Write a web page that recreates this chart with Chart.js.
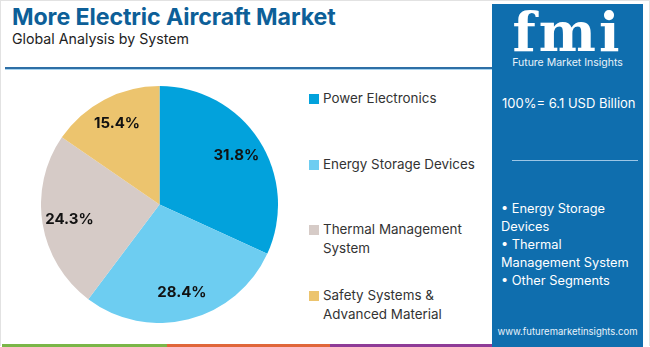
<!DOCTYPE html>
<html>
<head>
<meta charset="utf-8">
<script src="https://cdn.jsdelivr.net/npm/chart.js@4/dist/chart.umd.min.js"></script>
<style>
  html, body { margin:0; padding:0; background:#fff; }
  body { width:650px; height:347px; position:relative; overflow:hidden; font-family:Inter, "Open Sans", sans-serif; }
  .frame { position:absolute; left:0; top:0; width:648px; height:345px; border:1px solid #e2e2e2; border-bottom:none; }
  .title { position:absolute; left:12px; top:3px; font-size:23.2px; font-weight:700; color:#0d5f98; letter-spacing:-0.1px; white-space:nowrap; }
  .subtitle { position:absolute; left:12px; top:30px; font-size:14.2px; color:#222; white-space:nowrap; }
  .hline { position:absolute; left:5px; top:67px; width:487px; height:2px; background:#2e6fa6; }
  .hline2 { position:absolute; left:5px; top:69px; width:487px; height:1px; background:#a9d4ef; }
  #chartBox { position:absolute; left:41px; top:86px; width:237px; height:237px; }
  .legend { position:absolute; left:309px; top:0; font-size:13.4px; color:#333; }
  .legend .item { position:absolute; left:0; white-space:nowrap; line-height:19px; }
  .legend .sw { position:absolute; left:0; top:5px; width:10px; height:10px; }
  .legend .tx { position:absolute; left:14px; top:0; }
  .panel { position:absolute; left:492px; top:4px; width:151px; height:343px; background:#0f6eae; color:#fff; }
  .logo { position:absolute; left:0; width:151px; top:1px; text-align:center; font-family:"DejaVu Serif", serif; font-weight:700; font-size:54px; line-height:54px; letter-spacing:3px; color:#fff; }
  .logosub { position:absolute; left:0; width:151px; top:52px; text-align:center; font-size:10.5px; color:#e8f2fa; }
  .total { position:absolute; left:10px; top:91px; font-size:13px; white-space:nowrap; }
  .divider { position:absolute; left:20px; top:156px; width:126px; height:1px; background:#9cc6e6; }
  .bullets { position:absolute; left:9px; top:196px; font-size:12.8px; line-height:18px; }
  .url { position:absolute; left:0; width:151px; text-align:center; top:322px; font-size:9.5px; color:#e8f2fa; }
  .strip { position:absolute; top:344px; height:3px; }
</style>
</head>
<body>
<div class="frame"></div>
<div class="title">More Electric Aircraft Market</div>
<div class="subtitle">Global Analysis by System</div>
<div class="hline"></div>
<div class="hline2"></div>
<div id="chartBox"><canvas id="c"></canvas></div>
<div class="legend" id="legend"></div>
<div class="panel">
  <div class="logo">fmi</div>
  <div class="logosub">Future Market Insights</div>
  <div class="total" id="total"></div>
  <div class="divider"></div>
  <div class="bullets" id="bullets"></div>
  <div class="url">www.futuremarketinsights.com</div>
</div>
<div class="strip" style="left:2px;width:165px;background:#7ab648;"></div>
<div class="strip" style="left:167px;width:163px;background:#e0663a;"></div>
<div class="strip" style="left:330px;width:162px;background:#8e3b97;"></div>
<script>
const categories = ["Power Electronics", "Energy Storage Devices", "Thermal Management System", "Safety Systems & Advanced Material"];
const legendLines = [["Power Electronics"], ["Energy Storage Devices"], ["Thermal Management", "System"], ["Safety Systems &", "Advanced Material"]];
const shares = [31.8, 28.4, 24.3, 15.4];
const colors = ["#02a2dc", "#6dcdf1", "#d6cbc7", "#ecc46e"];
const totalText = "100%= 6.1 USD Billion";
const panelBullets = [["• Energy Storage", "Devices"], ["• Thermal", "Management System"], ["• Other Segments"]];
const legendTops = [89, 155, 220, 286];

// legend
const lg = document.getElementById('legend');
categories.forEach((c, i) => {
  const it = document.createElement('div');
  it.className = 'item';
  it.style.top = legendTops[i] + 'px';
  it.innerHTML = '<div class="sw" style="background:' + colors[i] + '"></div><div class="tx">' +
    legendLines[i].map(s => s.replace(/&/g, '&amp;')).join('<br>') + '</div>';
  lg.appendChild(it);
});
document.getElementById('total').textContent = totalText;
document.getElementById('bullets').innerHTML = panelBullets.map(b => b.join('<br>')).join('<br>');

const labelPlugin = {
  id: 'sliceLabels',
  afterDatasetsDraw(chart) {
    const ctx = chart.ctx;
    const meta = chart.getDatasetMeta(0);
    ctx.save();
    ctx.font = '700 15px Inter, "Open Sans", sans-serif';
    ctx.fillStyle = '#111';
    ctx.textAlign = 'center';
    ctx.textBaseline = 'middle';
    meta.data.forEach((arc, i) => {
      const p = arc.getProps(['x', 'y', 'startAngle', 'endAngle', 'outerRadius'], true);
      const mid = (p.startAngle + p.endAngle) / 2;
      const r = p.outerRadius * 0.77;
      ctx.fillText(shares[i].toFixed(1) + '%', p.x + Math.cos(mid) * r, p.y + Math.sin(mid) * r);
    });
    ctx.restore();
  }
};

new Chart(document.getElementById('c'), {
  type: 'pie',
  data: {
    labels: categories,
    datasets: [{ data: shares, backgroundColor: colors, borderWidth: 0 }]
  },
  options: {
    responsive: true,
    maintainAspectRatio: false,
    animation: false,
    layout: { padding: 0 },
    plugins: { legend: { display: false }, tooltip: { enabled: false } }
  },
  plugins: [labelPlugin]
});
</script>
</body>
</html>
